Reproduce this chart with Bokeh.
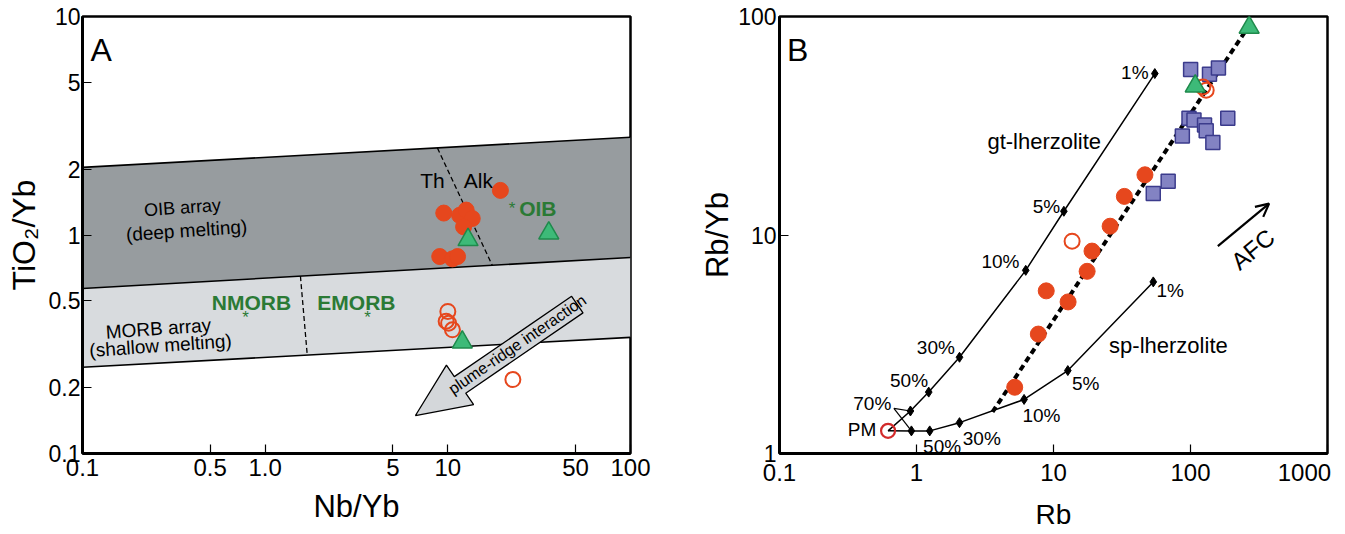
import math
from bokeh.plotting import figure
from bokeh.models import FixedTicker, Arrow, OpenHead
from bokeh.layouts import row
from bokeh.core.properties import value
from bokeh.embed import file_html
from bokeh.resources import INLINE

FONT = "Liberation Sans"
GREEN_TXT = "#2b7a35"
RED = "#e6471d"

# ================= Panel A : TiO2/Yb vs Nb/Yb =================
a_xticks = [0.1, 0.5, 1, 5, 10, 50, 100]
a_xlabels = ["0.1", "0.5", "1.0", "5", "10", "50", "100"]
a_yticks = [0.1, 0.2, 0.5, 1, 2, 5, 10]
a_ylabels = ["0.1", "0.2", "0.5", "1", "2", "5", "10"]

band_x = [0.1, 100]
oib_upper = [2.04, 2.80]
oib_lower = [0.569, 0.789]
morb_lower = [0.248, 0.34]

thalk_x = [8.77, 17.5]
thalk_y = [2.50, 0.727]
nem_x = [1.56, 1.70]
nem_y = [0.648, 0.282]

a_red_x = [19.4, 9.50, 11.6, 12.6, 13.6, 12.2, 9.03, 10.6, 11.3]
a_red_y = [1.60, 1.26, 1.23, 1.30, 1.19, 1.09, 0.797, 0.778, 0.797]
a_open_x = [10.0, 9.79, 10.1, 10.6, 22.7]
a_open_y = [0.447, 0.403, 0.395, 0.368, 0.218]
a_tri_x = [12.9, 35.7, 12.0]
a_tri_y = [0.951, 1.02, 0.323]

ref_names = ["NMORB", "EMORB", "OIB"]
ref_name_x = [0.841, 3.16, 31.1]
ref_name_y = [0.491, 0.491, 1.322]
ref_star_x = [0.78, 3.63, 22.5]
ref_star_y = [0.418, 0.421, 1.318]

plume_x = [6.65, 9.825, 10.85, 47.6, 54.95, 12.53, 13.84]
plume_y = [0.1492, 0.2539, 0.2248, 0.5242, 0.4400, 0.1888, 0.1673]
plume_text_xy = (24.0, 0.3155)
plume_angle_deg = 34.4

# ================= Panel B : Rb/Yb vs Rb =================
b_xticks = [0.1, 1, 10, 100, 1000]
b_xlabels = ["0.1", "1", "10", "100", "1000"]
b_yticks = [1, 10, 100]
b_ylabels = ["1", "10", "100"]

pm_x, pm_y = [0.62], [1.27]
gt_x = [0.62, 0.903, 1.228, 2.06, 6.27, 11.9, 54.9]
gt_y = [1.27, 1.565, 1.91, 2.757, 6.89, 12.84, 54.8]
sp_x = [0.62, 0.918, 1.249, 2.06, 6.10, 12.72, 53.5]
sp_y = [1.27, 1.269, 1.269, 1.384, 1.768, 2.396, 6.10]

gt_lab = ["70%", "50%", "30%", "10%", "5%", "1%"]
gt_lab_x = [0.655, 1.214, 1.905, 5.64, 11.19, 49.4]
gt_lab_y = [1.690, 2.158, 3.04, 7.57, 13.49, 55.6]
sp_lab = ["50%", "30%", "10%", "5%", "1%"]
sp_lab_x = [1.117, 2.177, 5.93, 13.66, 56.5]
sp_lab_y = [1.080, 1.170, 1.495, 2.084, 5.546]

lead_xs = [[0.684, 0.903], [0.684, 0.918]]
lead_ys = [[1.609, 1.565], [1.609, 1.269]]

afc_x = [3.59, 268]
afc_y = [1.55, 91.0]

b_red_x = [46.5, 32.9, 25.9, 19.1, 17.6, 8.85, 12.78, 7.75, 5.21]
b_red_y = [18.86, 15.02, 10.97, 8.44, 6.82, 5.55, 4.94, 3.52, 2.01]
b_open_x = [13.67, 123.2, 130.2]
b_open_y = [9.37, 47.6, 46.0]
b_tri_x = [108.3, 268]
b_tri_y = [48.0, 89.1]
b_sq_x = [100.2, 137.6, 159.9, 97.5, 106.0, 126.6, 130.2, 187.1, 87.2, 145.6, 68.7, 53.5]
b_sq_y = [57.2, 54.4, 58.1, 34.2, 33.6, 31.9, 30.0, 34.2, 28.4, 26.5, 17.6, 15.5]

afc_arrow = (158.3, 8.89, 374.6, 13.92)
afc_text_xy = (285.0, 8.6)
afc_angle_deg = 39.6


def txt(p, x, y, s, size, align="center", baseline="middle", angle_deg=0.0,
        color="black", style="normal"):
    p.text(x=[x], y=[y], text=[s], text_font=value(FONT),
           text_font_size=value(f"{size}px"), text_align=align,
           text_baseline=baseline, angle=math.radians(angle_deg),
           text_color=color, text_font_style=style)


def style(p, xt, xl, yt, yl, xfs, yfs, xlab, ylab, xlfs, ylfs, ystand, xls, yls):
    p.xaxis.ticker = FixedTicker(ticks=xt)
    p.yaxis.ticker = FixedTicker(ticks=yt)
    p.xaxis.major_label_overrides = {float(t): l for t, l in zip(xt, xl)}
    p.yaxis.major_label_overrides = {float(t): l for t, l in zip(yt, yl)}
    p.xaxis.axis_label = xlab
    p.yaxis.axis_label = ylab
    for ax, fs, lfs in ((p.xaxis[0], xfs, xlfs), (p.yaxis[0], yfs, ylfs)):
        ax.major_tick_in = 9
        ax.major_tick_out = 0
        ax.minor_tick_line_color = None
        ax.axis_line_width = 3
        ax.axis_line_color = "black"
        ax.major_tick_line_width = 1.2
        ax.major_tick_line_color = "black"
        ax.major_label_text_font = FONT
        ax.major_label_text_font_size = f"{fs}px"
        ax.major_label_text_color = "black"
        ax.axis_label_text_font = FONT
        ax.axis_label_text_font_size = f"{lfs}px"
        ax.axis_label_text_font_style = "normal"
        ax.axis_label_text_color = "black"
    p.xaxis.major_label_standoff = 5
    p.yaxis.major_label_standoff = ystand
    p.xaxis.axis_label_standoff = xls
    p.yaxis.axis_label_standoff = yls
    p.xgrid.visible = False
    p.ygrid.visible = False
    p.outline_line_color = "black"
    p.outline_line_width = 2.5
    p.outline_line_alpha = 1.0


# ---------------- Figure A ----------------
pA = figure(width=697, height=532, x_axis_type="log", y_axis_type="log",
            x_range=(0.1, 100), y_range=(0.1, 10),
            output_backend="svg", toolbar_location=None,
            min_border_left=82, min_border_right=67,
            min_border_top=16, min_border_bottom=79)
style(pA, a_xticks, a_xlabels, a_yticks, a_ylabels, 24, 23,
      "Nb/Yb", "TiO\u2082/Yb", 31, 32, 2, 10, 4)

pA.patch(band_x + band_x[::-1], oib_upper + oib_lower[::-1],
         fill_color="#979c9f", line_color=None)
pA.patch(band_x + band_x[::-1], oib_lower + morb_lower[::-1],
         fill_color="#d8dbde", line_color=None)
for yy in (oib_upper, oib_lower, morb_lower):
    pA.line(band_x, yy, line_color="black", line_width=1.6)
pA.line(thalk_x, thalk_y, line_color="black", line_width=1.3, line_dash="5 3")
pA.line(nem_x, nem_y, line_color="black", line_width=1.3, line_dash="5 3")

txt(pA, 0.3527, 1.336, "OIB array", 18, angle_deg=4)
txt(pA, 0.371, 1.048, "(deep melting)", 19, angle_deg=4)
txt(pA, 0.2606, 0.3733, "MORB array", 19, angle_deg=4)
txt(pA, 0.2673, 0.312, "(shallow melting)", 19, angle_deg=4)
txt(pA, 8.24, 1.776, "Th", 21)
txt(pA, 14.71, 1.776, "Alk", 21)
for nm, x, y in zip(ref_names, ref_name_x, ref_name_y):
    txt(pA, x, y, nm, 21, color=GREEN_TXT, style="bold")
for x, y in zip(ref_star_x, ref_star_y):
    txt(pA, x, y, "*", 17, color=GREEN_TXT)

pA.patch(plume_x, plume_y, fill_color="#d4d7da", line_color="black", line_width=1.3)
txt(pA, plume_text_xy[0], plume_text_xy[1], "plume-ridge interaction", 16,
    angle_deg=plume_angle_deg)

pA.scatter(a_red_x, a_red_y, marker="circle", size=16, fill_color=RED,
           line_color=RED)
pA.scatter(a_open_x, a_open_y, marker="circle", size=15, fill_color=None,
           line_color=RED, line_width=2)
pA.scatter(a_tri_x, a_tri_y, marker="triangle", size=20, fill_color="#3dba78",
           line_color="#1f8a4c", line_width=1.5)
txt(pA, 0.1106, 6.99, "A", 32, align="left", baseline="alphabetic")

# ---------------- Figure B ----------------
pB = figure(width=647, height=532, x_axis_type="log", y_axis_type="log",
            x_range=(0.1, 1000), y_range=(1, 100),
            output_backend="svg", toolbar_location=None,
            min_border_left=79, min_border_right=17,
            min_border_top=16, min_border_bottom=77)
style(pB, b_xticks, b_xlabels, b_yticks, b_ylabels, 24, 23,
      "Rb", "Rb/Yb", 28, 31, 3, 10, 0)
# the last x label sits left of its tick, as in the reference
pB.xaxis.major_label_overrides = {
    float(t): (l + "\u00a0\u00a0" if t == b_xticks[-1] else l)
    for t, l in zip(b_xticks, b_xlabels)}

pB.line(gt_x, gt_y, line_color="black", line_width=1.5)
pB.line(sp_x, sp_y, line_color="black", line_width=1.5)
pB.multi_line(lead_xs, lead_ys, line_color="black", line_width=1.2)
pB.scatter(gt_x[1:], gt_y[1:], marker="diamond", size=10, fill_color="black",
           line_color="black")
pB.scatter(sp_x[1:], sp_y[1:], marker="diamond", size=10, fill_color="black",
           line_color="black")
pB.line(afc_x, afc_y, line_color="black", line_width=4, line_dash="6 4")

for s, x, y in zip(gt_lab, gt_lab_x, gt_lab_y):
    txt(pB, x, y, s, 19, align="right")
for s, x, y in zip(sp_lab, sp_lab_x, sp_lab_y):
    txt(pB, x, y, s, 19, align="left")
txt(pB, 0.509, 1.290, "PM", 19, align="right")
txt(pB, 8.56, 26.67, "gt-lherzolite", 22)
txt(pB, 69.0, 3.114, "sp-lherzolite", 22)

pB.scatter(b_sq_x, b_sq_y, marker="square", size=14, fill_color="#8383c3",
           line_color="#3b3b8c", line_width=1.5)
pB.scatter(b_red_x, b_red_y, marker="circle", size=16, fill_color=RED,
           line_color=RED)
pB.scatter(b_open_x, b_open_y, marker="circle", size=15, fill_color=None,
           line_color=RED, line_width=2)
pB.scatter(pm_x, pm_y, marker="circle", size=14, fill_color=None,
           line_color="#d22b2b", line_width=2.2)
pB.scatter(b_tri_x, b_tri_y, marker="triangle", size=20, fill_color="#3dba78",
           line_color="#1f8a4c", line_width=1.5)

pB.add_layout(Arrow(end=OpenHead(size=13, line_width=2.2, line_color="black"),
                    x_start=afc_arrow[0], y_start=afc_arrow[1],
                    x_end=afc_arrow[2], y_end=afc_arrow[3],
                    line_width=2.2, line_color="black"))
txt(pB, afc_text_xy[0], afc_text_xy[1], "AFC", 24, angle_deg=afc_angle_deg)
txt(pB, 0.1134, 70.0, "B", 32, align="left", baseline="alphabetic")

layout = row(pA, pB)
open("out.html", "w").write(file_html(layout, INLINE))
